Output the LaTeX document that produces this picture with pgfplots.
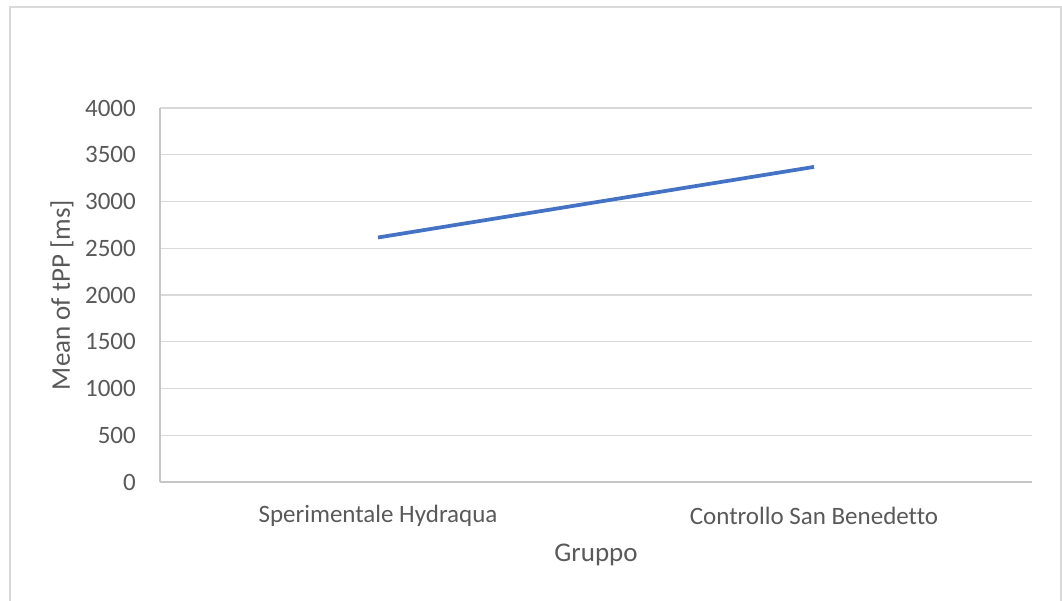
\documentclass[border=0pt]{standalone}
\usepackage{pgfplots}
\pgfplotsset{compat=1.18}
\usepackage{fontspec}
\setmainfont[Ligatures=NoCommon]{Carlito}
\definecolor{txt}{HTML}{595959}
\definecolor{gridc}{HTML}{D9D9D9}
\definecolor{axc}{HTML}{C6C6C6}
\definecolor{ln}{HTML}{4472C4}
\begin{document}
\begin{tikzpicture}[x=1pt,y=1pt]
\useasboundingbox (0,0) rectangle (1062,600);
\draw[gridc, line width=1.5pt] (10,-2) -- (10,593) -- (1061,593) -- (1061,-2);
\begin{axis}[
  at={(160pt,118pt)}, anchor=south west,
  scale only axis, width=872pt, height=374pt,
  xmin=-0.5, xmax=1.5, ymin=0, ymax=4000,
  xtick={0,1},
  xticklabels={Sperimentale Hydraqua, Controllo San Benedetto},
  ytick={0,500,...,4000},
  ymajorgrids,
  major grid style={gridc, line width=1.2pt},
  axis x line*=bottom, axis y line*=left,
  axis line style={axc, line width=1.2pt, -},
  major tick length=0pt,
  tick label style={font=\fontsize{25}{30}\selectfont, text=txt},
  /pgf/number format/.cd, set thousands separator={}, assume math mode=true,
  /pgfplots/.cd,
  xticklabel style={anchor=center, yshift=-34pt, inner sep=0pt},
  yticklabel style={anchor=east, xshift=-24pt, inner sep=0pt},
  xlabel={Gruppo}, ylabel={Mean of tPP [ms]},
  label style={font=\fontsize{27}{32}\selectfont, text=txt},
  xlabel style={at={(axis description cs:0.5,-0.1952)}, anchor=center},
  ylabel style={at={(axis description cs:-0.1124,0.5)}, anchor=center},
]
\addplot[ln, line width=3.75pt, no marks] coordinates {(0,2615) (1,3370)};
\end{axis}
\end{tikzpicture}
\end{document}
